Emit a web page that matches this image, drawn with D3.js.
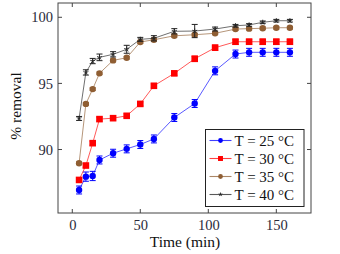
<!DOCTYPE html>
<html><head><meta charset="utf-8">
<script src="https://cdn.jsdelivr.net/npm/d3@7"></script>
<style>body{margin:0;background:#fff}svg{display:block}</style>
</head><body><svg id="c" width="340" height="254"></svg>
<script>
const times = [5,10,15,20,30,40,50,60,75,90,105,120,130,140,150,160];
const t25 = [86.94,87.95,88.0,89.21,89.72,90.05,90.38,90.8,92.42,93.48,95.95,97.22,97.35,97.35,97.35,97.35];
const e25 = [0.3,0.35,0.35,0.3,0.3,0.3,0.3,0.3,0.3,0.3,0.3,0.3,0.3,0.3,0.3,0.3];
const t30 = [87.7,88.79,90.48,92.3,92.37,92.55,93.45,94.82,95.76,96.86,97.7,98.15,98.15,98.15,98.15,98.15];
const e30 = [0.15,0.15,0.15,0.15,0.15,0.15,0.15,0.15,0.15,0.2,0.2,0.2,0.2,0.2,0.2,0.2];
const t35 = [88.96,93.45,94.57,95.76,96.74,96.94,98.13,98.3,98.6,98.68,98.79,99.11,99.14,99.17,99.21,99.21];
const e35 = [0.1,0.1,0.1,0.1,0.1,0.1,0.1,0.1,0.1,0.1,0.1,0.1,0.1,0.1,0.1,0.1];
const t40 = [92.35,95.83,96.69,96.97,97.2,97.58,98.33,98.41,98.94,98.96,99.11,99.36,99.42,99.62,99.74,99.74];
const e40 = [0.15,0.2,0.2,0.25,0.2,0.3,0.15,0.2,0.2,0.5,0.15,0.1,0.1,0.1,0.1,0.1];
const labels = ["T = 25 °C","T = 30 °C","T = 35 °C","T = 40 °C"];
const xTicks = [0,50,100,150];
const yTicks = [90,95,100];

const series = [
  {name:labels[0], v:t25, e:e25, color:"#0000ff", mark:"circle"},
  {name:labels[1], v:t30, e:e30, color:"#ff0000", mark:"square"},
  {name:labels[2], v:t35, e:e35, color:"#8f5e33", mark:"circle"},
  {name:labels[3], v:t40, e:e40, color:"#222222", mark:"star"}
];

const FONT = "'Liberation Serif','Times New Roman',Times,serif";
const L=58, R=311, T=3, B=213;
const svg = d3.select("#c");
const x = d3.scaleLinear().domain([-10.5,175.5]).range([L,R]);
const y = d3.scaleLinear().domain([85.2,101.08]).range([B,T]);

svg.append("rect").attr("x",L).attr("y",T).attr("width",R-L).attr("height",B-T)
  .attr("fill","none").attr("stroke","#444").attr("stroke-width",1);

const tl=4;
xTicks.forEach(t=>{
  svg.append("line").attr("x1",x(t)).attr("x2",x(t)).attr("y1",B).attr("y2",B-tl).attr("stroke","#444");
  svg.append("line").attr("x1",x(t)).attr("x2",x(t)).attr("y1",T).attr("y2",T+tl).attr("stroke","#444");
});
yTicks.forEach(t=>{
  svg.append("line").attr("x1",L).attr("x2",L+tl).attr("y1",y(t)).attr("y2",y(t)).attr("stroke","#444");
  svg.append("line").attr("x1",R).attr("x2",R-tl).attr("y1",y(t)).attr("y2",y(t)).attr("stroke","#444");
});
const xa = svg.append("g").attr("transform",`translate(0,${B})`)
  .call(d3.axisBottom(x).tickValues(xTicks).tickSize(0).tickPadding(7));
const ya = svg.append("g").attr("transform",`translate(${L},0)`)
  .call(d3.axisLeft(y).tickValues(yTicks).tickSize(0).tickPadding(5));
[xa,ya].forEach(a=>{a.select(".domain").remove();
  a.attr("font-family",null).attr("font-size",null);
  a.selectAll("text").style("font-family",FONT).style("font-size","14.5px").attr("fill","#2a2a3a");});

svg.append("text").attr("x",185).attr("y",247).attr("text-anchor","middle")
  .style("font-family",FONT).style("font-size","15.5px").attr("fill","#111").text("Time (min)");
svg.append("text").attr("transform",`translate(21,106) rotate(-90)`).attr("text-anchor","middle")
  .style("font-family",FONT).style("font-size","15.5px").attr("fill","#111").text("% removal");

const plot = svg.append("g");
const line = d3.line().x((d,i)=>x(times[i])).y(d=>y(d));

function drawMark(g, mark, cx, cy, color, s){
  if(mark==="circle") g.append("circle").attr("cx",cx).attr("cy",cy).attr("r",3.2*s).attr("fill",color);
  else if(mark==="square") g.append("rect").attr("x",cx-3.3*s).attr("y",cy-3.3*s).attr("width",6.6*s).attr("height",6.6*s).attr("fill",color);
  else {
    const r=2.6*s; let d="";
    for(let k=0;k<5;k++){const a=-Math.PI/2+k*2*Math.PI/5; d+=`M${cx},${cy}L${cx+r*Math.cos(a)},${cy+r*Math.sin(a)}`;}
    g.append("path").attr("d",d).attr("stroke",color).attr("stroke-width",0.9).attr("fill","none");
  }
}

series.forEach(s=>{
  plot.append("path").attr("d",line(s.v)).attr("fill","none").attr("stroke",s.color)
    .attr("stroke-width",1).attr("stroke-opacity",0.65);
  s.v.forEach((v,i)=>{
    const cx=x(times[i]);
    const g=plot.append("g").attr("stroke",s.color).attr("stroke-width",1);
    g.append("line").attr("x1",cx).attr("x2",cx).attr("y1",y(v-s.e[i])).attr("y2",y(v+s.e[i]));
    g.append("line").attr("x1",cx-3).attr("x2",cx+3).attr("y1",y(v-s.e[i])).attr("y2",y(v-s.e[i]));
    g.append("line").attr("x1",cx-3).attr("x2",cx+3).attr("y1",y(v+s.e[i])).attr("y2",y(v+s.e[i]));
    drawMark(plot,s.mark,cx,y(v),s.color,1);
  });
});

const lg = svg.append("g");
lg.append("rect").attr("x",205.5).attr("y",129.5).attr("width",98.5).attr("height",77)
  .attr("fill","#fff").attr("stroke","#222").attr("stroke-width",1);
series.forEach((s,i)=>{
  const cy=140.5+i*18;
  lg.append("line").attr("x1",209.5).attr("x2",231.5).attr("y1",cy).attr("y2",cy)
    .attr("stroke",s.color).attr("stroke-width",1.1).attr("stroke-opacity",0.75);
  drawMark(lg,s.mark,220.5,cy,s.color,0.75);
  lg.append("text").attr("x",234.5).attr("y",cy+5).style("font-family",FONT).style("font-size","15px")
    .attr("fill","#111").text(s.name);
});
</script></body></html>
